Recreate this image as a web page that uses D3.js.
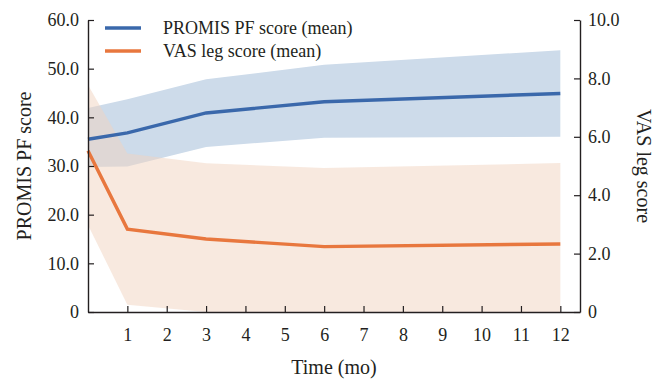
<!DOCTYPE html>
<html>
<head>
<meta charset="utf-8">
<script src="https://cdn.jsdelivr.net/npm/d3@7"></script>
<style>
  html, body { margin: 0; padding: 0; background: #fff; }
  svg { display: block; }
  text { font-family: "Liberation Serif", "DejaVu Serif", serif; fill: #231f20; }
</style>
</head>
<body>
<svg id="rootSVG" width="662" height="380"></svg>
<script>
// months of follow-up
const months = [0, 1, 3, 6, 12];
const xTicks = [1, 2, 3, 4, 5, 6, 7, 8, 9, 10, 11, 12];

// PROMIS PF score (left axis)
const promisMean = [35.5, 36.8, 40.9, 43.2, 44.9];
const promisUpper = [41.9, 43.7, 47.8, 50.8, 53.8];
const promisLower = [29.8, 29.9, 33.9, 35.8, 36.0];

// VAS leg score (right axis)
const vasMean = [5.52, 2.84, 2.50, 2.24, 2.33];
const vasUpper = [7.77, 5.43, 5.09, 4.93, 5.10];
const vasLower = [2.98, 0.25, 0.0, 0.0, 0.0];

const leftTicks = [0, 10, 20, 30, 40, 50, 60];
const rightTicks = [0, 2, 4, 6, 8, 10];

const legendLabels = ["PROMIS PF score (mean)", "VAS leg score (mean)"];
const blue = "#3a68ab";
const orange = "#e8773e";

const svg = d3.select("#rootSVG");
const plotLeft = 88, plotRight = 580, plotTop = 20, plotBottom = 312;

const x = d3.scaleLinear().domain([0, 12.5]).range([plotLeft, plotRight]);
const yL = d3.scaleLinear().domain([0, 60]).range([plotBottom, plotTop]);
const yR = d3.scaleLinear().domain([0, 10]).range([plotBottom, plotTop]);

const fmt = d => d === 0 ? "0" : d.toFixed(1);

// bands
const promisBand = d3.area()
  .x((d, i) => x(months[i]))
  .y0((d, i) => yL(promisLower[i]))
  .y1((d, i) => yL(promisUpper[i]));
const vasBand = d3.area()
  .x((d, i) => x(months[i]))
  .y0((d, i) => yR(vasLower[i]))
  .y1((d, i) => yR(vasUpper[i]));

svg.append("path").attr("d", promisBand(months)).attr("fill", "#cddbea");
svg.append("path").attr("d", vasBand(months)).attr("fill", "#f2d4bf").attr("fill-opacity", 0.5);

// mean lines
const promisLine = d3.line().x((d, i) => x(months[i])).y(d => yL(d));
const vasLine = d3.line().x((d, i) => x(months[i])).y(d => yR(d));

svg.append("path").attr("d", vasLine(vasMean))
  .attr("fill", "none").attr("stroke", orange).attr("stroke-width", 3.4);
svg.append("path").attr("d", promisLine(promisMean))
  .attr("fill", "none").attr("stroke", blue).attr("stroke-width", 3.4);

// axes
const leftAxis = svg.append("g").attr("transform", `translate(${plotLeft},0)`)
  .call(d3.axisLeft(yL).tickValues(leftTicks).tickFormat(fmt)
    .tickSizeInner(-6).tickSizeOuter(0).tickPadding(9));
const rightAxis = svg.append("g").attr("transform", `translate(${plotRight},0)`)
  .call(d3.axisRight(yR).tickValues(rightTicks).tickFormat(fmt)
    .tickSizeInner(-6).tickSizeOuter(0).tickPadding(8));
const bottomAxis = svg.append("g").attr("transform", `translate(0,${plotBottom})`)
  .call(d3.axisBottom(x).tickValues(xTicks)
    .tickSizeInner(-6).tickSizeOuter(0).tickPadding(16));

[leftAxis, rightAxis, bottomAxis].forEach(g => {
  g.select(".domain").attr("stroke", "#231f20").attr("stroke-width", 1.4);
  g.selectAll(".tick line").attr("stroke", "#231f20").attr("stroke-width", 1.2);
  g.selectAll(".tick text").attr("font-family", "Liberation Serif").attr("font-size", 18).attr("fill", "#231f20");
});

// axis titles
svg.append("text")
  .attr("transform", `translate(31,${(plotTop + plotBottom) / 2}) rotate(-90)`)
  .attr("text-anchor", "middle").attr("font-size", 20)
  .text("PROMIS PF score");
svg.append("text")
  .attr("transform", `translate(637,${(plotTop + plotBottom) / 2}) rotate(90)`)
  .attr("text-anchor", "middle").attr("font-size", 20)
  .text("VAS leg score");
svg.append("text")
  .attr("x", (plotLeft + plotRight) / 2).attr("y", 374)
  .attr("text-anchor", "middle").attr("font-size", 20)
  .text("Time (mo)");

// legend
const legend = svg.append("g").selectAll("g")
  .data(legendLabels).enter().append("g")
  .attr("transform", (d, i) => `translate(105,${28 + i * 23})`);
legend.append("line")
  .attr("x1", 0).attr("x2", 36)
  .attr("stroke", (d, i) => i === 0 ? blue : orange).attr("stroke-width", 3.4);
legend.append("text")
  .attr("x", 58).attr("y", 6).attr("font-size", 18)
  .text(d => d);
</script>
</body>
</html>
